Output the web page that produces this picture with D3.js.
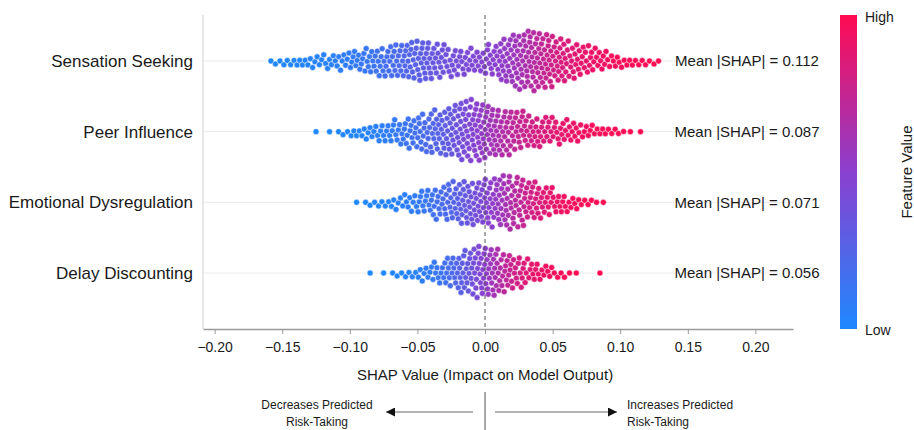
<!DOCTYPE html>
<html lang="en">
<head>
  <meta charset="UTF-8" />
  <title>SHAP Summary</title>
  <style>
    body { margin: 0; background: #fff; font-family: "Liberation Sans", Arial, sans-serif; }
    svg text { fill: #1a1a1a; }
  </style>
</head>
<body>
  <div id="chart"></div>

  <script src="https://cdnjs.cloudflare.com/ajax/libs/d3/7.8.4/d3.min.js"></script>
  <script>
    // features, top to bottom
    const features = ["Sensation Seeking", "Peer Influence", "Emotional Dysregulation", "Delay Discounting"];
    const meanAbsShap = [0.112, 0.087, 0.071, 0.056];

    // dots per 0.01-wide SHAP bin
    const binWidth = 0.01;
    const binStart = [-0.16, -0.13, -0.10, -0.09];
    const binCounts = [
      [3, 4, 5, 6, 7, 8, 10, 12, 14, 16, 18, 19, 16, 13, 12, 11, 14, 21, 26, 28, 26, 21, 16, 13, 10, 7, 5, 4, 3],
      [1, 1, 3, 5, 7, 9, 11, 14, 17, 20, 23, 27, 27, 24, 21, 18, 15, 13, 11, 10, 7, 5, 4, 2, 1],
      [1, 3, 4, 6, 8, 11, 14, 18, 21, 21, 22, 24, 22, 18, 14, 10, 7, 4, 2],
      [1, 1, 3, 4, 7, 10, 15, 20, 23, 23, 18, 14, 10, 7, 4, 2, 0, 1]
    ];

    const tickValues = [-0.20, -0.15, -0.10, -0.05, 0.00, 0.05, 0.10, 0.15, 0.20];

    const width = 914, height = 430;
    const svg = d3.select("#chart").append("svg").attr("width", width).attr("height", height);

    const x = d3.scaleLinear().domain([-0.2086, 0.2278]).range([203, 793]);
    const y = d3.scalePoint().domain(features).range([61, 273]);
    const plotTop = 15, plotBottom = 329;

    const color = d3.scaleLinear()
      .domain([0, 0.5, 1])
      .range(["#1e88ff", "#8a40cf", "#ff0a52"])
      .interpolate(d3.interpolateRgb);

    // grid lines
    svg.append("g")
      .selectAll("line")
      .data(features)
      .enter().append("line")
      .attr("x1", 203).attr("x2", 793)
      .attr("y1", d => y(d)).attr("y2", d => y(d))
      .attr("stroke", "#ececec");

    // left spine
    svg.append("line")
      .attr("x1", 203).attr("x2", 203)
      .attr("y1", plotTop).attr("y2", plotBottom)
      .attr("stroke", "#d0d0d0");

    // build points and lay them out as a swarm
    const r = 3.0, D = 5.4;
    features.forEach((f, fi) => {
      const pts = [];
      binCounts[fi].forEach((n, bi) => {
        const a = binStart[fi] + bi * binWidth;
        for (let i = 0; i < n; i++) {
          pts.push({ v: a + (i + 0.5) / n * binWidth });
        }
      });
      pts.forEach(p => { p.px = x(p.v); });
      pts.sort((a, b) => a.px - b.px);
      // feature value colour follows the rank of the SHAP value
      pts.forEach((p, i) => { p.t = i / (pts.length - 1); });

      const placed = [];
      pts.forEach(p => {
        const near = placed.filter(q => Math.abs(q.px - p.px) < D);
        const cands = [0];
        near.forEach(q => {
          const dy = Math.sqrt(D * D - (q.px - p.px) ** 2);
          cands.push(q.dy + dy, q.dy - dy);
        });
        cands.sort((a, b) => Math.abs(a) - Math.abs(b));
        for (const c of cands) {
          if (near.every(q => (q.px - p.px) ** 2 + (q.dy - c) ** 2 >= D * D - 1e-6)) { p.dy = c; break; }
        }
        placed.push(p);
      });

      svg.append("g")
        .selectAll("circle")
        .data(pts)
        .enter().append("circle")
        .attr("cx", d => d.px)
        .attr("cy", d => y(f) + d.dy)
        .attr("r", r)
        .attr("fill", d => color(d.t))
        .attr("stroke", "#fff")
        .attr("stroke-width", 0.5);
    });

    // zero line on top of the dots
    svg.append("line")
      .attr("x1", x(0)).attr("x2", x(0))
      .attr("y1", plotTop).attr("y2", plotBottom)
      .attr("stroke", "#555")
      .attr("stroke-dasharray", "4,3");

    // feature labels
    svg.append("g")
      .selectAll("text")
      .data(features)
      .enter().append("text")
      .attr("x", 193)
      .attr("y", d => y(d))
      .attr("dy", "0.35em")
      .attr("text-anchor", "end")
      .style("font-size", "17px")
      .text(d => d);

    // mean |SHAP| labels
    svg.append("g")
      .selectAll("text")
      .data(features)
      .enter().append("text")
      .attr("x", 747)
      .attr("y", d => y(d))
      .attr("dy", "0.35em")
      .attr("text-anchor", "middle")
      .style("font-size", "15px")
      .text((d, i) => `Mean |SHAP| = ${meanAbsShap[i].toFixed(3)}`);

    // x axis
    const xAxis = svg.append("g")
      .attr("transform", `translate(0,${plotBottom})`)
      .call(d3.axisBottom(x).tickValues(tickValues).tickFormat(d3.format(".2f")).tickSize(5).tickSizeOuter(0));
    xAxis.select(".domain").attr("stroke", "#9a9a9a").attr("stroke-width", 1.5);
    xAxis.selectAll(".tick line").attr("stroke", "#9a9a9a");
    xAxis.selectAll(".tick text").attr("dy", "1.1em").style("font-size", "14px").style("font-family", "Liberation Sans, Arial, sans-serif").attr("fill", "#1a1a1a");

    svg.append("text")
      .attr("x", x(0)).attr("y", 380)
      .attr("text-anchor", "middle")
      .style("font-size", "15px")
      .text("SHAP Value (Impact on Model Output)");

    // direction arrows
    const defs = svg.append("defs");
    defs.append("marker")
      .attr("id", "arrow")
      .attr("viewBox", "0 0 10 10")
      .attr("refX", 10).attr("refY", 5)
      .attr("markerWidth", 9).attr("markerHeight", 9)
      .attr("markerUnits", "userSpaceOnUse")
      .attr("orient", "auto")
      .append("path").attr("d", "M0,0 L10,5 L0,10 Z").attr("fill", "#111");

    svg.append("line")
      .attr("x1", x(0)).attr("x2", x(0))
      .attr("y1", 392).attr("y2", 430)
      .attr("stroke", "#555");
    svg.append("line")
      .attr("x1", 473).attr("x2", 386).attr("y1", 412).attr("y2", 412)
      .attr("stroke", "#666").attr("marker-end", "url(#arrow)");
    svg.append("line")
      .attr("x1", 495).attr("x2", 617).attr("y1", 412).attr("y2", 412)
      .attr("stroke", "#666").attr("marker-end", "url(#arrow)");

    const leftNote = svg.append("text").attr("text-anchor", "middle").style("font-size", "12px");
    leftNote.append("tspan").attr("x", 317).attr("y", 409).text("Decreases Predicted");
    leftNote.append("tspan").attr("x", 317).attr("y", 426).text("Risk-Taking");
    const rightNote = svg.append("text").attr("text-anchor", "start").style("font-size", "12px");
    rightNote.append("tspan").attr("x", 627).attr("y", 409).text("Increases Predicted");
    rightNote.append("tspan").attr("x", 627).attr("y", 426).text("Risk-Taking");

    // color bar
    const grad = defs.append("linearGradient")
      .attr("id", "cbar").attr("x1", "0").attr("y1", "1").attr("x2", "0").attr("y2", "0");
    d3.range(0, 1.0001, 0.1).forEach(t => {
      grad.append("stop").attr("offset", t).attr("stop-color", color(t));
    });
    svg.append("rect")
      .attr("x", 840).attr("y", plotTop)
      .attr("width", 17).attr("height", plotBottom - plotTop)
      .attr("fill", "url(#cbar)");

    svg.append("text").attr("x", 865).attr("y", 22).style("font-size", "14px").text("High");
    svg.append("text").attr("x", 865).attr("y", 335).style("font-size", "14px").text("Low");
    svg.append("text")
      .attr("transform", `translate(907,${(plotTop + plotBottom) / 2}) rotate(-90)`)
      .attr("text-anchor", "middle")
      .attr("dy", "0.35em")
      .style("font-size", "15px")
      .text("Feature Value");
  </script>
</body>
</html>
